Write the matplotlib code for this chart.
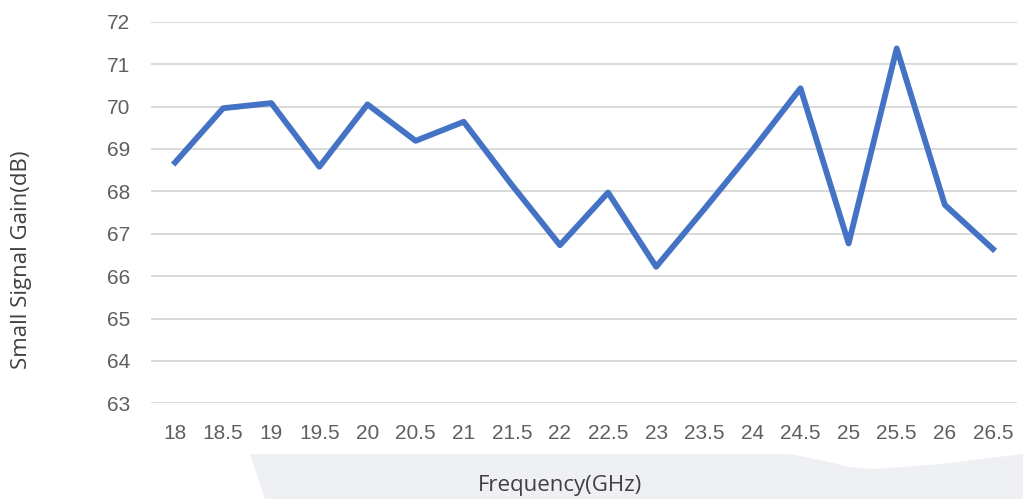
import matplotlib.pyplot as plt
from matplotlib.patches import Polygon

# frequency points (GHz) and small signal gain (dB)
freq = ['18', '18.5', '19', '19.5', '20', '20.5', '21', '21.5', '22', '22.5',
        '23', '23.5', '24', '24.5', '25', '25.5', '26', '26.5']
gain = [68.68, 69.96, 70.08, 68.58, 70.05, 69.19, 69.64, 68.15, 66.73, 67.97,
        66.22, 67.58, 68.97, 70.43, 66.77, 71.37, 67.68, 66.64]
yticks = [63, 64, 65, 66, 67, 68, 69, 70, 71, 72]

fig = plt.figure(figsize=(10.23, 4.99), dpi=100)

# light grey band behind the x label (as in the screenshot)
band = Polygon([(250/1023, 1-454/499), (790/1023, 1-454/499), (820/1023, 1-460/499),
                (850/1023, 1-467/499), (875/1023, 1-469/499), (940/1023, 1-464/499),
                (1023/1023, 1-454/499), (1, 0), (265/1023, 0)],
               closed=True, transform=fig.transFigure, facecolor='#eff0f4',
               edgecolor='none', zorder=0)
fig.patches.append(band)

ax = fig.add_axes([151/1023, 1-403.3/499, (1017-151)/1023, (403.3-21.7)/499])
ax.set_facecolor('none')

x = list(range(len(freq)))
ax.plot(x, gain, color='#4472c4', lw=4.2, solid_joinstyle='round', clip_on=False, zorder=3)

ax.set_xlim(-0.5, len(freq) - 0.5)
ax.set_ylim(63, 72)
ax.set_xticks(x)
ax.set_xticklabels(freq)
ax.set_yticks(yticks)
ax.yaxis.grid(True, color='#d9d9d9', lw=1.4)
ax.set_axisbelow(True)
for s in ax.spines.values():
    s.set_visible(False)
ax.tick_params(length=0, labelsize=15, labelcolor='#5f5f5f')
ax.tick_params(axis='x', pad=15)
ax.tick_params(axis='y', pad=15)
for t in ax.get_xticklabels() + ax.get_yticklabels():
    t.set_family('Liberation Sans')

fig.text(22/1023, 1-260/499, 'Small Signal Gain(dB)', rotation=90, ha='center', va='center',
         fontsize=16, color='#404040', family='Open Sans')
fig.text(560/1023, 1-486/499, 'Frequency(GHz)', ha='center', va='center',
         fontsize=16, color='#404040', family='Open Sans')

fig.savefig('out.png', dpi=100)
